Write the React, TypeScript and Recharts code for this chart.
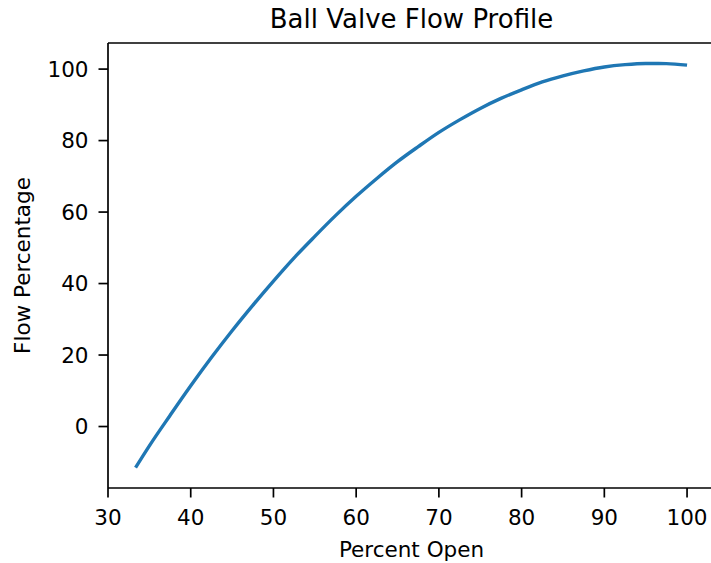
import { LineChart, Line, XAxis, YAxis, ReferenceLine } from 'recharts';

// valve opening (%) and resulting flow (%)
const percentOpen = [
  33.33, 35, 37.5, 40, 42.5, 45, 47.5, 50, 52.5, 55, 57.5, 60, 62.5, 65, 67.5, 70,
  72.5, 75, 77.5, 80, 82.5, 85, 87.5, 90, 92.5, 95, 97.5, 100,
];
const flowPct = [
  -11.5, -5.4, 3.1, 11.4, 19.3, 26.8, 33.9, 40.7, 47.2, 53.2, 59.0, 64.4, 69.4, 74.1, 78.3, 82.3,
  85.8, 89.0, 91.8, 94.2, 96.4, 98.1, 99.5, 100.6, 101.25, 101.57, 101.54, 101.1,
];

const xTicks = [30, 40, 50, 60, 70, 80, 90, 100];
const yTicks = [0, 20, 40, 60, 80, 100];

const rows = percentOpen.map((open, i) => ({ open, flow: flowPct[i] }));

const FONT = '"DejaVu Sans", sans-serif';
const INK = '#000000';

const XTick = ({ x, y, payload }: any) => (
  <text x={x} y={y + 27.5} textAnchor="middle" fontSize={21.5} fontFamily={FONT} fill={INK}>
    {payload.value}
  </text>
);

const YTick = ({ x, y, payload }: any) => (
  <text x={x - 10} y={y + 7.8} textAnchor="end" fontSize={21.5} fontFamily={FONT} fill={INK}>
    {payload.value}
  </text>
);

export default function App() {
  return (
    <div
      style={{
        position: 'absolute',
        left: 0,
        top: 0,
        width: 711,
        height: 563,
        overflow: 'hidden',
        background: '#fff',
      }}
    >
      <LineChart
        width={720}
        height={563}
        data={rows}
        margin={{ top: 43, right: 5.4, bottom: 0, left: 0 }}
      >
        <XAxis
          dataKey="open"
          type="number"
          domain={[30, 103.33]}
          ticks={xTicks}
          allowDataOverflow
          height={75}
          tickSize={9.5}
          tickMargin={0}
          tick={<XTick />}
          axisLine={{ stroke: INK, strokeWidth: 1.7 }}
          tickLine={{ stroke: INK, strokeWidth: 1.7 }}
        />
        <YAxis
          type="number"
          domain={[-17.2, 107.3]}
          ticks={yTicks}
          allowDataOverflow
          width={108}
          tickSize={9.5}
          tickMargin={0}
          tick={<YTick />}
          axisLine={{ stroke: INK, strokeWidth: 1.7 }}
          tickLine={{ stroke: INK, strokeWidth: 1.7 }}
        />
        <ReferenceLine y={107.3} stroke={INK} strokeWidth={1.7} />
        <ReferenceLine x={103.33} stroke={INK} strokeWidth={1.7} />
        <Line
          dataKey="flow"
          type="monotone"
          stroke="#1f77b4"
          strokeWidth={3.4}
          dot={false}
          isAnimationActive={false}
        />
        <text x={411.5} y={27.7} textAnchor="middle" fontSize={26} fontFamily={FONT} fill={INK}>
          Ball Valve Flow Profile
        </text>
        <text x={411.5} y={556.5} textAnchor="middle" fontSize={21.5} fontFamily={FONT} fill={INK}>
          Percent Open
        </text>
        <text
          x={30}
          y={265.5}
          textAnchor="middle"
          fontSize={21.5}
          fontFamily={FONT}
          fill={INK}
          transform="rotate(-90 30 265.5)"
        >
          Flow Percentage
        </text>
      </LineChart>
    </div>
  );
}
